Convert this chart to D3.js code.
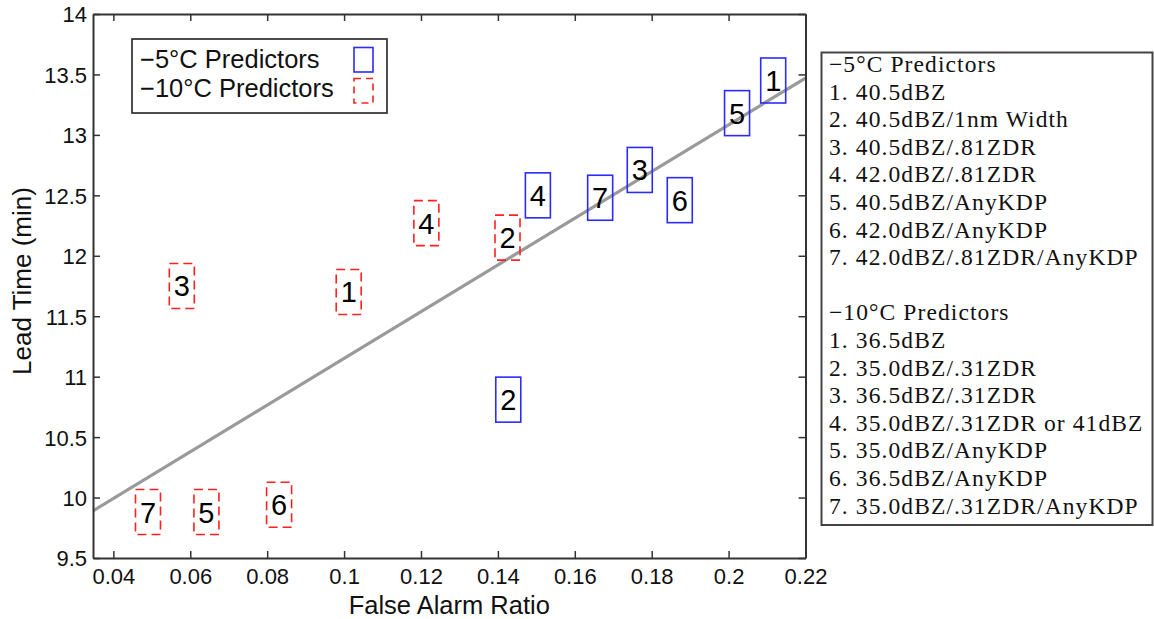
<!DOCTYPE html>
<html><head><meta charset="utf-8">
<script src="https://cdn.jsdelivr.net/npm/d3@7"></script>
<style>html,body{margin:0;padding:0;background:#fff;}svg{display:block;}</style>
</head><body>
<script>
// ---- data ----
const labels = ["1","2","3","4","5","6","7"];
const blueX = [0.2116, 0.1427, 0.1769, 0.1504, 0.2022, 0.1873, 0.1666];
const blueY = [13.45, 10.81, 12.71, 12.50, 13.18, 12.46, 12.48];
const redX  = [0.1012, 0.1425, 0.0578, 0.1214, 0.0642, 0.0831, 0.0490];
const redY  = [11.70, 12.15, 11.75, 12.27, 9.88, 9.94, 9.88];
const fitX = [0.0347, 0.22];
const fitY = [9.89, 13.47];
const xTicks = [0.04,0.06,0.08,0.1,0.12,0.14,0.16,0.18,0.2,0.22];
const xTickLabels = ["0.04","0.06","0.08","0.1","0.12","0.14","0.16","0.18","0.2","0.22"];
const yTicks = [9.5,10,10.5,11,11.5,12,12.5,13,13.5,14];
const yTickLabels = ["9.5","10","10.5","11","11.5","12","12.5","13","13.5","14"];
const legendItems = ["\u22125\u00B0C Predictors", "\u221210\u00B0C Predictors"];
const list5 = ["\u22125\u00B0C Predictors","1. 40.5dBZ","2. 40.5dBZ/1nm Width","3. 40.5dBZ/.81ZDR","4. 42.0dBZ/.81ZDR","5. 40.5dBZ/AnyKDP","6. 42.0dBZ/AnyKDP","7. 42.0dBZ/.81ZDR/AnyKDP"];
const list10 = ["\u221210\u00B0C Predictors","1. 36.5dBZ","2. 35.0dBZ/.31ZDR","3. 36.5dBZ/.31ZDR","4. 35.0dBZ/.31ZDR or 41dBZ","5. 35.0dBZ/AnyKDP","6. 36.5dBZ/AnyKDP","7. 35.0dBZ/.31ZDR/AnyKDP"];

const W = 1154, H = 619;
const L = 93, R = 805.5, T = 14, B = 558;
const sans = "'Liberation Sans', Arial, sans-serif";
const serif = "'Liberation Serif', 'Times New Roman', serif";

const svg = d3.select("body").append("svg").attr("width", W).attr("height", H);
const x = d3.scaleLinear().domain([0.0347, 0.22]).range([L, R]);
const y = d3.scaleLinear().domain([9.5, 14]).range([B, T]);

const axisCol = "#333";
// regression line
const clipId = "plotclip";
svg.append("clipPath").attr("id", clipId).append("rect").attr("x", L).attr("y", T).attr("width", R-L).attr("height", B-T);
svg.append("path")
  .datum(fitX.map((v,i)=>[v, fitY[i]]))
  .attr("clip-path", `url(#${clipId})`)
  .attr("d", d3.line().x(d=>x(d[0])).y(d=>y(d[1])))
  .attr("fill","none").attr("stroke","#9a9a9a").attr("stroke-width",3.2);

// axes (ticks inward, box)
const tk = 7;
const axB = svg.append("g").attr("transform",`translate(0,${B})`)
  .call(d3.axisBottom(x).tickValues(xTicks).tickFormat((d,i)=>xTickLabels[i]).tickSizeInner(-tk).tickSizeOuter(0).tickPadding(10));
const axT = svg.append("g").attr("transform",`translate(0,${T})`)
  .call(d3.axisTop(x).tickValues(xTicks).tickFormat("").tickSizeInner(-tk).tickSizeOuter(0));
const axL = svg.append("g").attr("transform",`translate(${L},0)`)
  .call(d3.axisLeft(y).tickValues(yTicks).tickFormat((d,i)=>yTickLabels[i]).tickSizeInner(-tk).tickSizeOuter(0).tickPadding(6));
const axR = svg.append("g").attr("transform",`translate(${R},0)`)
  .call(d3.axisRight(y).tickValues(yTicks).tickFormat("").tickSizeInner(-tk).tickSizeOuter(0));
[axB,axT,axL,axR].forEach(a=>{
  a.select(".domain").attr("stroke",axisCol).attr("stroke-width",2);
  a.selectAll(".tick line").attr("stroke",axisCol).attr("stroke-width",1.5);
  a.selectAll(".tick text").attr("font-family",sans).attr("font-size",22).attr("fill","#111");
});
axB.selectAll(".tick text").attr("dy","0.71em");
axL.selectAll(".tick text").attr("dy","0.36em");

// axis labels
svg.append("text").attr("x",(L+R)/2).attr("y",614).attr("text-anchor","middle")
  .attr("font-family",sans).attr("font-size",25.5).attr("fill","#111").text("False Alarm Ratio");
svg.append("text").attr("transform",`translate(31,${(T+B)/2 - 5}) rotate(-90)`).attr("text-anchor","middle")
  .attr("font-family",sans).attr("font-size",26).attr("fill","#111").text("Lead Time (min)");

// markers
const bw = 25, bh = 45, fs = 29;
function drawMarkers(xs, ys, color, dashed){
  const g = svg.append("g").selectAll("g").data(xs.map((v,i)=>({x:v,y:ys[i],l:labels[i]}))).join("g")
    .attr("transform", d=>`translate(${x(d.x)},${y(d.y)})`);
  g.append("rect").attr("x",-bw/2).attr("y",-bh/2).attr("width",bw).attr("height",bh)
    .attr("fill","none").attr("stroke",color).attr("stroke-width",1.6)
    .attr("stroke-dasharray", dashed ? "9,5" : null);
  g.append("text").attr("text-anchor","middle").attr("y", fs*0.36)
    .attr("font-family",sans).attr("font-size",fs).attr("fill","#000").text(d=>d.l);
}
drawMarkers(redX, redY, "#ff2020", true);
drawMarkers(blueX, blueY, "#2b2bff", false);

// inner legend
const lg = svg.append("g");
lg.append("rect").attr("x",132).attr("y",39).attr("width",255).attr("height",74)
  .attr("fill","#fff").attr("stroke","#222").attr("stroke-width",1.6);
legendItems.forEach((t,i)=>{
  lg.append("text").attr("x",140).attr("y",68 + i*29).attr("font-family",sans).attr("font-size",25.5).attr("fill","#111").text(t);
  lg.append("rect").attr("x",354).attr("y",47.5 + i*31).attr("width",19).attr("height",24.5)
    .attr("fill","none").attr("stroke", i===0 ? "#2b2bff" : "#ff2020").attr("stroke-width",1.6)
    .attr("stroke-dasharray", i===0 ? null : "7,5");
});

// right legend
const rg = svg.append("g");
rg.append("rect").attr("x",821.5).attr("y",52.5).attr("width",331).attr("height",472.5)
  .attr("fill","#fff").attr("stroke","#444").attr("stroke-width",2);
const lines = list5.concat([""], list10);
lines.forEach((t,i)=>{
  if(!t) return;
  rg.append("text").attr("x",829).attr("y",72 + i*27.6).attr("font-family",serif).attr("font-size",23.5)
    .attr("letter-spacing","1.1px").attr("fill","#111").text(t);
});
</script>
</body></html>
